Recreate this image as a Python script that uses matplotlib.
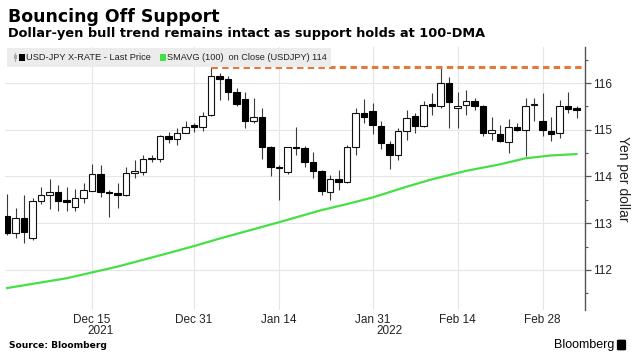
import matplotlib
matplotlib.use("Agg")
import matplotlib.pyplot as plt
import matplotlib.transforms as mtransforms
from matplotlib.patches import Rectangle, FancyBboxPatch
import numpy as np
import pandas as pd

# ---------------- data ----------------
dates = pd.bdate_range("2021-12-01", "2022-03-04")  # trading days shown

opens = [113.16, 112.79, 113.11, 112.68, 113.47, 113.60, 113.66, 113.49, 113.34, 113.54,
         113.69, 114.05, 113.67, 113.65, 113.61, 114.08, 114.09, 114.37, 114.38, 114.86,
         114.81, 114.94, 115.08, 115.07, 115.32, 116.16, 116.09, 115.82, 115.66, 115.18,
         115.28, 114.64, 114.19, 114.09, 114.64, 114.61, 114.32, 114.11, 113.66, 113.95,
         113.89, 114.63, 115.37, 115.41, 115.09, 114.70, 114.46, 114.98, 115.30, 115.09,
         115.55, 115.50, 116.00, 115.46, 115.54, 115.61, 115.52, 114.94, 114.91, 114.74,
         115.06, 115.00, 115.53, 115.19, 114.98, 114.93, 115.50, 115.46]
highs = [113.63, 113.32, 113.61, 113.53, 113.78, 113.95, 113.81, 113.78, 113.73, 113.86,
         114.26, 114.25, 113.71, 113.86, 114.21, 114.36, 114.46, 114.46, 114.89, 114.96,
         115.04, 115.19, 115.14, 115.39, 116.35, 116.21, 116.16, 115.89, 115.82, 115.68,
         115.46, 114.66, 114.25, 114.64, 115.05, 114.66, 114.53, 114.14, 114.04, 114.14,
         114.68, 115.46, 115.66, 115.58, 115.18, 114.77, 115.04, 115.43, 115.36, 115.61,
         115.79, 116.35, 116.14, 115.82, 115.86, 115.68, 115.54, 115.27, 115.11, 115.23,
         115.14, 115.68, 115.68, 115.79, 115.27, 115.63, 115.80, 115.50]
lows = [112.75, 112.68, 112.57, 112.64, 113.41, 113.30, 113.27, 113.25, 113.25, 113.44,
        113.68, 113.55, 113.14, 113.32, 113.58, 113.96, 114.04, 114.32, 114.32, 114.71,
        114.68, 114.94, 114.96, 114.98, 115.30, 115.63, 115.63, 115.50, 115.04, 115.14,
        114.37, 114.00, 113.50, 114.06, 114.46, 114.21, 113.96, 113.61, 113.50, 113.71,
        113.86, 114.46, 115.14, 114.91, 114.59, 114.16, 114.36, 114.79, 114.93, 115.07,
        115.32, 115.46, 115.04, 115.04, 115.32, 115.43, 114.86, 114.79, 114.73, 114.51,
        114.98, 114.43, 115.18, 114.87, 114.75, 114.82, 115.37, 115.25]
closes = [112.79, 113.11, 112.81, 113.48, 113.60, 113.67, 113.48, 113.45, 113.54, 113.70,
          114.05, 113.67, 113.64, 113.61, 114.08, 114.11, 114.38, 114.39, 114.87, 114.81,
          114.94, 115.07, 115.07, 115.30, 116.16, 116.09, 115.82, 115.56, 115.19, 115.28,
          114.63, 114.20, 114.18, 114.63, 114.61, 114.32, 114.11, 113.68, 113.95, 113.89,
          114.63, 115.37, 115.27, 115.11, 114.71, 114.46, 114.98, 115.25, 115.09, 115.54,
          115.52, 116.00, 115.59, 115.52, 115.61, 115.52, 114.94, 115.00, 114.75, 115.07,
          115.00, 115.52, 115.56, 115.00, 114.91, 115.50, 115.44, 115.43]

ma_dates = ["2021-12-01", "2021-12-06", "2021-12-10", "2021-12-20", "2021-12-28",
            "2021-12-31", "2022-01-05", "2022-01-14", "2022-01-21", "2022-01-26",
            "2022-01-31", "2022-02-04", "2022-02-09", "2022-02-15", "2022-02-21",
            "2022-02-24", "2022-03-01", "2022-03-04"]
ma_values = [111.61, 111.70, 111.82, 112.07, 112.36, 112.51, 112.67, 113.02, 113.28,
             113.41, 113.55, 113.78, 113.94, 114.12, 114.26, 114.39, 114.45, 114.48]

resistance_level = 116.35
resistance_start = "2022-01-04"

xtick_dates = ["2021-12-15", "2021-12-31", "2022-01-14", "2022-01-31", "2022-02-14", "2022-02-28"]
xtick_labels = ["Dec 15", "Dec 31", "Jan 14", "Jan 31", "Feb 14", "Feb 28"]
yticks = [112, 113, 114, 115, 116]
legend_labels = ["USD-JPY X-RATE - Last Price", "SMAVG (100)  on Close (USDJPY) 114"]

# ---------------- figure ----------------
W, H = 633, 364
fig = plt.figure(figsize=(W / 100, H / 100), dpi=100)
fig.patch.set_facecolor("white")


def fx(px):
    return px / W


def fy(py):
    return 1 - py / H


ax = fig.add_axes([fx(5), fy(310), fx(585) - fx(5), fy(46.7) - fy(310)])

pos = {d: i for i, d in enumerate(dates)}
idx = np.arange(len(dates))
o = np.array(opens); h = np.array(highs); l = np.array(lows); c = np.array(closes)
up = c >= o

ax.vlines(idx, l, h, color="#3a3a3a", lw=0.8, zorder=2)
body_bottom = np.minimum(o, c)
body_h = np.maximum(np.abs(c - o), 0.03)
ax.bar(idx[up], body_h[up], bottom=body_bottom[up], width=0.78,
       color="white", edgecolor="#111111", linewidth=0.8, zorder=3)
ax.bar(idx[~up], body_h[~up], bottom=body_bottom[~up], width=0.78,
       color="black", edgecolor="black", linewidth=0.8, zorder=3)

ma_x = [pos[pd.Timestamp(d)] for d in ma_dates]
ax.plot(ma_x, ma_values, color="#44e044", lw=1.6, zorder=2)

x_right = 68.0
ax.plot([pos[pd.Timestamp(resistance_start)], x_right], [resistance_level, resistance_level],
        color="#e8773a", lw=2.2, ls=(0, (2.1, 1.4)), zorder=4, solid_capstyle="butt")

ax.set_xlim(-0.25, x_right)
ax.set_ylim(111.14, 116.78)

# axes styling
for s in ["left", "top", "bottom"]:
    ax.spines[s].set_visible(False)
ax.spines["right"].set_color("#555555")
ax.spines["right"].set_linewidth(1.0)
ax.yaxis.tick_right()
ax.set_yticks(yticks)
ax.set_yticks(np.arange(111.5, 117, 1.0), minor=True)
ax.tick_params(axis="y", which="major", direction="out", length=4, width=0.9,
               color="#555555", labelsize=8.5, labelcolor="#222222", pad=2)
ax.tick_params(axis="y", which="minor", direction="out", length=2.5, width=0.8, color="#555555")
for t in ax.get_yticklabels():
    t.set_fontfamily("Liberation Sans")

ax.set_xticks([pos[pd.Timestamp(d)] for d in xtick_dates])
ax.set_xticklabels(xtick_labels, fontfamily="Liberation Sans", fontsize=8.5, color="#222222")
ax.tick_params(axis="x", length=0, pad=3)

ax.grid(True, which="major", color="#e6e6e6", lw=0.8, zorder=0)
ax.set_axisbelow(True)

ax.yaxis.set_label_position("right")
ax.set_ylabel("Yen per dollar", rotation=270, fontfamily="Liberation Sans", fontsize=10,
              color="#222222", labelpad=13)

# year labels centred on each year's span
trans = mtransforms.blended_transform_factory(ax.transData, ax.transAxes)
years = dates.year
for yr in sorted(set(years)):
    centre = idx[years == yr].mean()
    ax.text(centre, -0.081, str(yr), transform=trans, ha="center", va="center",
            fontfamily="Liberation Sans", fontsize=8.5, color="#222222")

# titles
fig.text(fx(8), fy(8), "Bouncing Off Support", fontsize=12.5, fontweight="bold",
         family="DejaVu Sans", va="top", ha="left", color="black")
fig.text(fx(8), fy(26.5), "Dollar-yen bull trend remains intact as support holds at 100-DMA",
         fontsize=9.3, fontweight="bold", family="DejaVu Sans", va="top", ha="left", color="black")

# legend box
fig.patches.append(Rectangle((fx(7), fy(66.5)), fx(331) - fx(7), fy(48) - fy(66.5),
                             transform=fig.transFigure, facecolor="#ececec",
                             edgecolor="none", zorder=5))
fig.lines.append(plt.Line2D([fx(15), fx(15)], [fy(53), fy(61)], transform=fig.transFigure,
                            color="#aaaaaa", lw=0.8, zorder=6))
fig.patches.append(Rectangle((fx(13.5), fy(59)), fx(3), fy(55) - fy(59),
                             transform=fig.transFigure, facecolor="#aaaaaa",
                             edgecolor="none", zorder=6))
fig.patches.append(Rectangle((fx(19), fy(61)), fx(6), fy(54) - fy(61),
                             transform=fig.transFigure, facecolor="black",
                             edgecolor="none", zorder=6))
fig.text(fx(26), fy(57.5), legend_labels[0], fontsize=6.7, family="Liberation Sans",
         va="center", ha="left", color="#222222", zorder=7)
fig.patches.append(Rectangle((fx(160), fy(61)), fx(6), fy(54) - fy(61),
                             transform=fig.transFigure, facecolor="#44e044",
                             edgecolor="none", zorder=6))
fig.text(fx(167), fy(57.5), legend_labels[1], fontsize=6.6, family="Liberation Sans",
         va="center", ha="left", color="#222222", zorder=7)

# footer
fig.text(fx(9), fy(346), "Source: Bloomberg", fontsize=6.6, fontweight="bold",
         family="DejaVu Sans", va="center", ha="left", color="black")
fig.text(fx(614), fy(345), "Bloomberg", fontsize=9, family="Liberation Sans",
         va="center", ha="right", color="black")
fig.patches.append(FancyBboxPatch((fx(617.5), fy(350)), fx(8), fy(340) - fy(350),
                                  boxstyle="round,pad=0.001,rounding_size=0.003",
                                  transform=fig.transFigure, facecolor="black",
                                  edgecolor="none"))

fig.savefig("out.png", dpi=100, facecolor="white")
